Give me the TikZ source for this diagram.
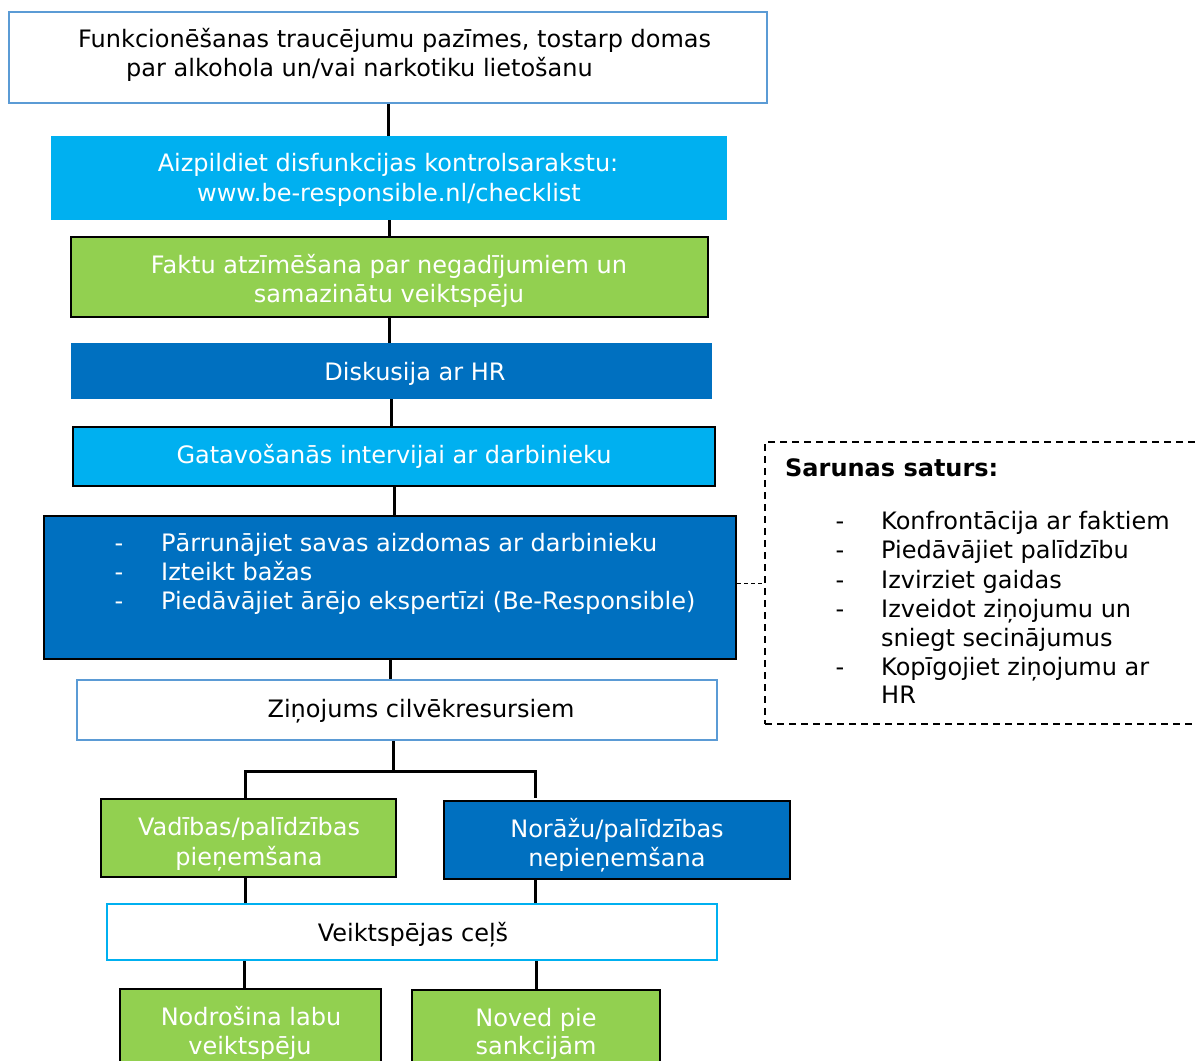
\documentclass[tikz,border=0pt]{standalone}
\usepackage{fontspec}
\setmainfont{DejaVu Sans}
\definecolor{skyfill}{HTML}{00B0F0}
\definecolor{navyfill}{HTML}{0070C0}
\definecolor{leaffill}{HTML}{92D050}
\definecolor{paleedge}{HTML}{5B9BD5}
\begin{document}
\begin{tikzpicture}[x=1pt,y=-1pt,
  box/.style={rectangle, inner sep=0pt},
  plainbox/.style={box, fill=white, draw=paleedge, line width=2pt},
  skybox/.style={box, fill=skyfill},
  navybox/.style={box, fill=navyfill},
  leafbox/.style={box, fill=leaffill, draw=black, line width=2pt},
  txt/.style={inner sep=0pt, font=\fontsize{24}{29}\selectfont},
  wtxt/.style={txt, text=white},
  conn/.style={line width=3pt, draw=black},
  sidebox/.style={box, draw=black, line width=1.6pt, dash pattern=on 7pt off 5pt},
  sidelink/.style={line width=0.8pt, draw=black, dash pattern=on 4pt off 3pt}]
\useasboundingbox (0,0) rectangle (1195,1061);
\clip (0,0) rectangle (1195,1061);
\fill[white] (0,0) rectangle (1195,1061);

% main column of boxes
\node[plainbox, minimum width=758pt, minimum height=91pt] (top) at (388,57.5) {};
\node[skybox, minimum width=676pt, minimum height=84pt] (chk) at (389,178) {};
\node[leafbox, minimum width=637pt, minimum height=80pt] (fakt) at (389.5,277) {};
\node[navybox, minimum width=641pt, minimum height=56pt] (disk) at (391.5,371) {};
\node[skybox, draw=black, line width=2pt, minimum width=642pt, minimum height=59pt] (gat) at (394,456.5) {};
\node[navybox, draw=black, line width=2pt, minimum width=692pt, minimum height=143pt] (talk) at (390,587.5) {};
\node[plainbox, minimum width=640pt, minimum height=60pt] (zin) at (397,710) {};

% branches
\node[leafbox, minimum width=295pt, minimum height=78pt] (vad) at (248.5,838) {};
\node[navybox, draw=black, line width=2pt, minimum width=346pt, minimum height=78pt] (nor) at (617,840) {};
\node[box, fill=white, draw=skyfill, line width=2pt, minimum width=610pt, minimum height=56pt] (veik) at (412,932) {};
\node[leafbox, minimum width=261pt, minimum height=90pt] (nod) at (250.5,1034) {};
\node[leafbox, minimum width=248pt, minimum height=90pt] (nov) at (536,1035) {};

% side note
\node[sidebox, minimum width=440pt, minimum height=282pt] (side) at (985,583) {};

% texts
\node[txt, anchor=base west] (t-top1) at (78,47) {Funkcionēšanas traucējumu pazīmes, tostarp domas};
\node[txt, anchor=base west] (t-top2) at (126,76) {par alkohola un/vai narkotiku lietošanu};
\node[wtxt, anchor=base] (t-chk1) at (388,171) {Aizpildiet disfunkcijas kontrolsarakstu:};
\node[wtxt, anchor=base] (t-chk2) at (389,201) {www.be-responsible.nl/checklist};
\node[wtxt, anchor=base] (t-fakt1) at (389,273) {Faktu atzīmēšana par negadījumiem un};
\node[wtxt, anchor=base] (t-fakt2) at (389,302) {samazinātu veiktspēju};
\node[wtxt, anchor=base] (t-disk) at (415,380) {Diskusija ar HR};
\node[wtxt, anchor=base] (t-gat) at (394,463) {Gatavošanās intervijai ar darbinieku};
\node[wtxt, anchor=base] (d-talk1) at (119,551) {-};
\node[wtxt, anchor=base] (d-talk2) at (119,580) {-};
\node[wtxt, anchor=base] (d-talk3) at (119,609) {-};
\node[wtxt, anchor=base west] (t-talk1) at (161,551) {Pārrunājiet savas aizdomas ar darbinieku};
\node[wtxt, anchor=base west] (t-talk2) at (161,580) {Izteikt bažas};
\node[wtxt, anchor=base west] (t-talk3) at (161,609) {Piedāvājiet ārējo ekspertīzi (Be-Responsible)};
\node[txt, anchor=base] (t-zin) at (421,717) {Ziņojums cilvēkresursiem};
\node[wtxt, anchor=base] (t-vad1) at (249,835) {Vadības/palīdzības};
\node[wtxt, anchor=base] (t-vad2) at (249,865) {pieņemšana};
\node[wtxt, anchor=base] (t-nor1) at (617,837) {Norāžu/palīdzības};
\node[wtxt, anchor=base] (t-nor2) at (617,866) {nepieņemšana};
\node[txt, anchor=base] (t-veik) at (413,941) {Veiktspējas ceļš};
\node[wtxt, anchor=base] (t-nod1) at (251,1025) {Nodrošina labu};
\node[wtxt, anchor=base] (t-nod2) at (250,1054) {veiktspēju};
\node[wtxt, anchor=base] (t-nov1) at (536,1026) {Noved pie};
\node[wtxt, anchor=base] (t-nov2) at (536,1054) {sankcijām};

\node[txt, anchor=base west, font=\fontsize{24}{29}\selectfont\bfseries] (t-side) at (785,476) {Sarunas saturs:};
\foreach \y [count=\i] in {529,558,588,617,675} {
  \node[txt, anchor=base] (d-side\i) at (840,\y) {-};
}
\node[txt, anchor=base west] (t-side1) at (881,529) {Konfrontācija ar faktiem};
\node[txt, anchor=base west] (t-side2) at (881,558) {Piedāvājiet palīdzību};
\node[txt, anchor=base west] (t-side3) at (881,588) {Izvirziet gaidas};
\node[txt, anchor=base west] (t-side4) at (881,617) {Izveidot ziņojumu un};
\node[txt, anchor=base west] (t-side5) at (881,646) {sniegt secinājumus};
\node[txt, anchor=base west] (t-side6) at (881,675) {Kopīgojiet ziņojumu ar};
\node[txt, anchor=base west] (t-side7) at (881,703) {HR};

% connectors
\draw[conn] (top.south) -- (top.south |- chk.north);
\draw[conn] (chk.south) -- (chk.south |- fakt.north);
\draw[conn] (fakt.south) -- (fakt.south |- disk.north);
\draw[conn] (disk.south) -- (disk.south |- gat.north);
\draw[conn] (gat.south) -- (gat.south |- talk.north);
\draw[conn] (talk.south) -- (talk.south |- zin.north);
\coordinate (split) at (393,771);
\draw[conn] (zin.south -| split) -- (split);
\draw[conn] ([xshift=-3.5pt]vad.north) |- (split) -| ([xshift=-82pt,yshift=2pt]nor.north);
\draw[conn] ([xshift=-3.5pt]vad.south) -- ([xshift=-3.5pt]vad.south |- veik.north);
\draw[conn] ([xshift=-82pt]nor.south) -- ([xshift=-82pt]nor.south |- veik.north);
\draw[conn] ([xshift=-6.5pt]nod.north) -- ([xshift=-6.5pt]nod.north |- veik.south);
\draw[conn] (nov.north) -- (nov.north |- veik.south);
\draw[sidelink] (side.west -| talk.east) -- (side.west);
\end{tikzpicture}
\end{document}
